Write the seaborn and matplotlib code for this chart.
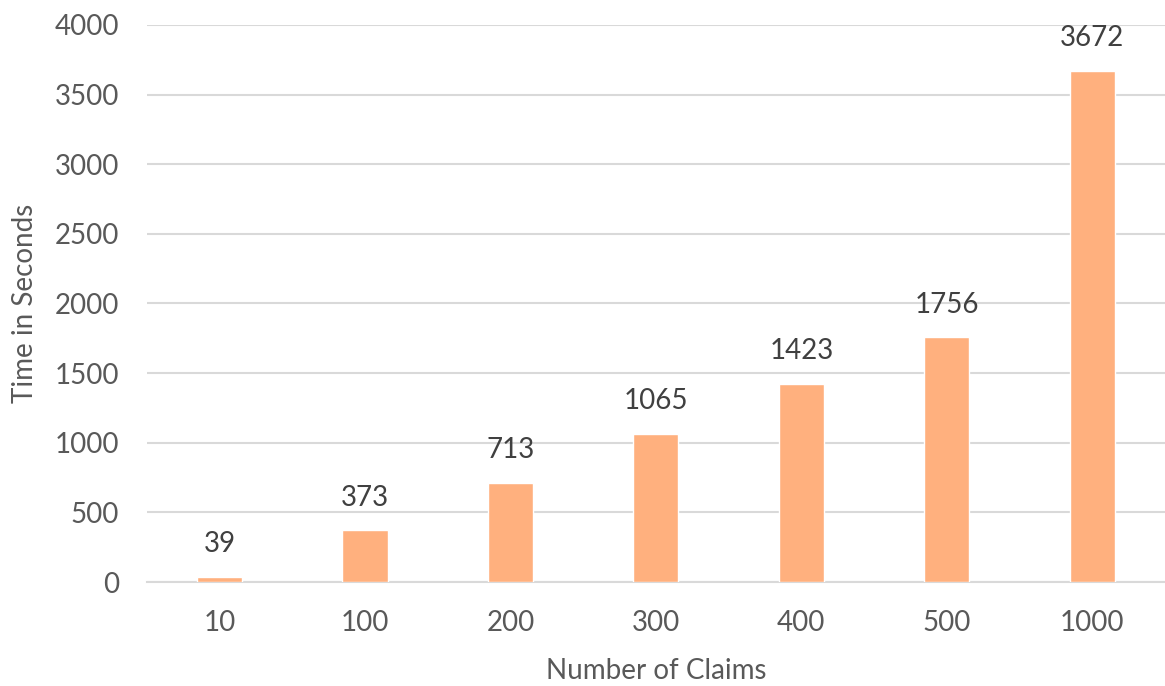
import matplotlib
matplotlib.use("Agg")
import matplotlib.pyplot as plt
import seaborn as sns
import pandas as pd

claims = ["10", "100", "200", "300", "400", "500", "1000"]
seconds = [39, 373, 713, 1065, 1423, 1756, 3672]
yticks = [0, 500, 1000, 1500, 2000, 2500, 3000, 3500, 4000]

sns.set_theme(style="white")
plt.rcParams['font.family'] = ['Lato', 'DejaVu Sans']

df = pd.DataFrame({"claims": claims, "seconds": seconds})

fig = plt.figure(figsize=(11.65, 6.86), dpi=100)
ax = fig.add_axes([0.126, 0.1516, 0.874, 0.812])

sns.barplot(data=df, x="claims", y="seconds", color="#FFB07E", width=0.31,
            saturation=1, ax=ax, zorder=3)

for i, v in enumerate(seconds):
    ax.annotate(str(v), (i, v), xytext=(0, 14), textcoords="offset points",
                ha="center", va="bottom", fontsize=20, color="#404040")

ax.set_ylim(0, 4000)
ax.set_yticks(yticks)
ax.set_yticklabels([str(t) for t in yticks])
ax.set_xlim(-0.5, len(claims) - 0.5)
ax.yaxis.grid(True, color="#D9D9D9", linewidth=1.5, zorder=0)
ax.set_axisbelow(True)
for s in ["top", "right", "left"]:
    ax.spines[s].set_visible(False)
ax.spines["bottom"].set_color("#D9D9D9")
ax.spines["bottom"].set_linewidth(1.5)
ax.tick_params(axis="both", length=0, labelsize=20, labelcolor="#595959")
ax.tick_params(axis="y", pad=20)
ax.tick_params(axis="x", pad=20)
ax.set_xlabel("Number of Claims", fontsize=20, color="#595959", labelpad=16)
ax.set_ylabel("Time in Seconds", fontsize=20, color="#595959", labelpad=12)

fig.savefig("out.png", dpi=100)
